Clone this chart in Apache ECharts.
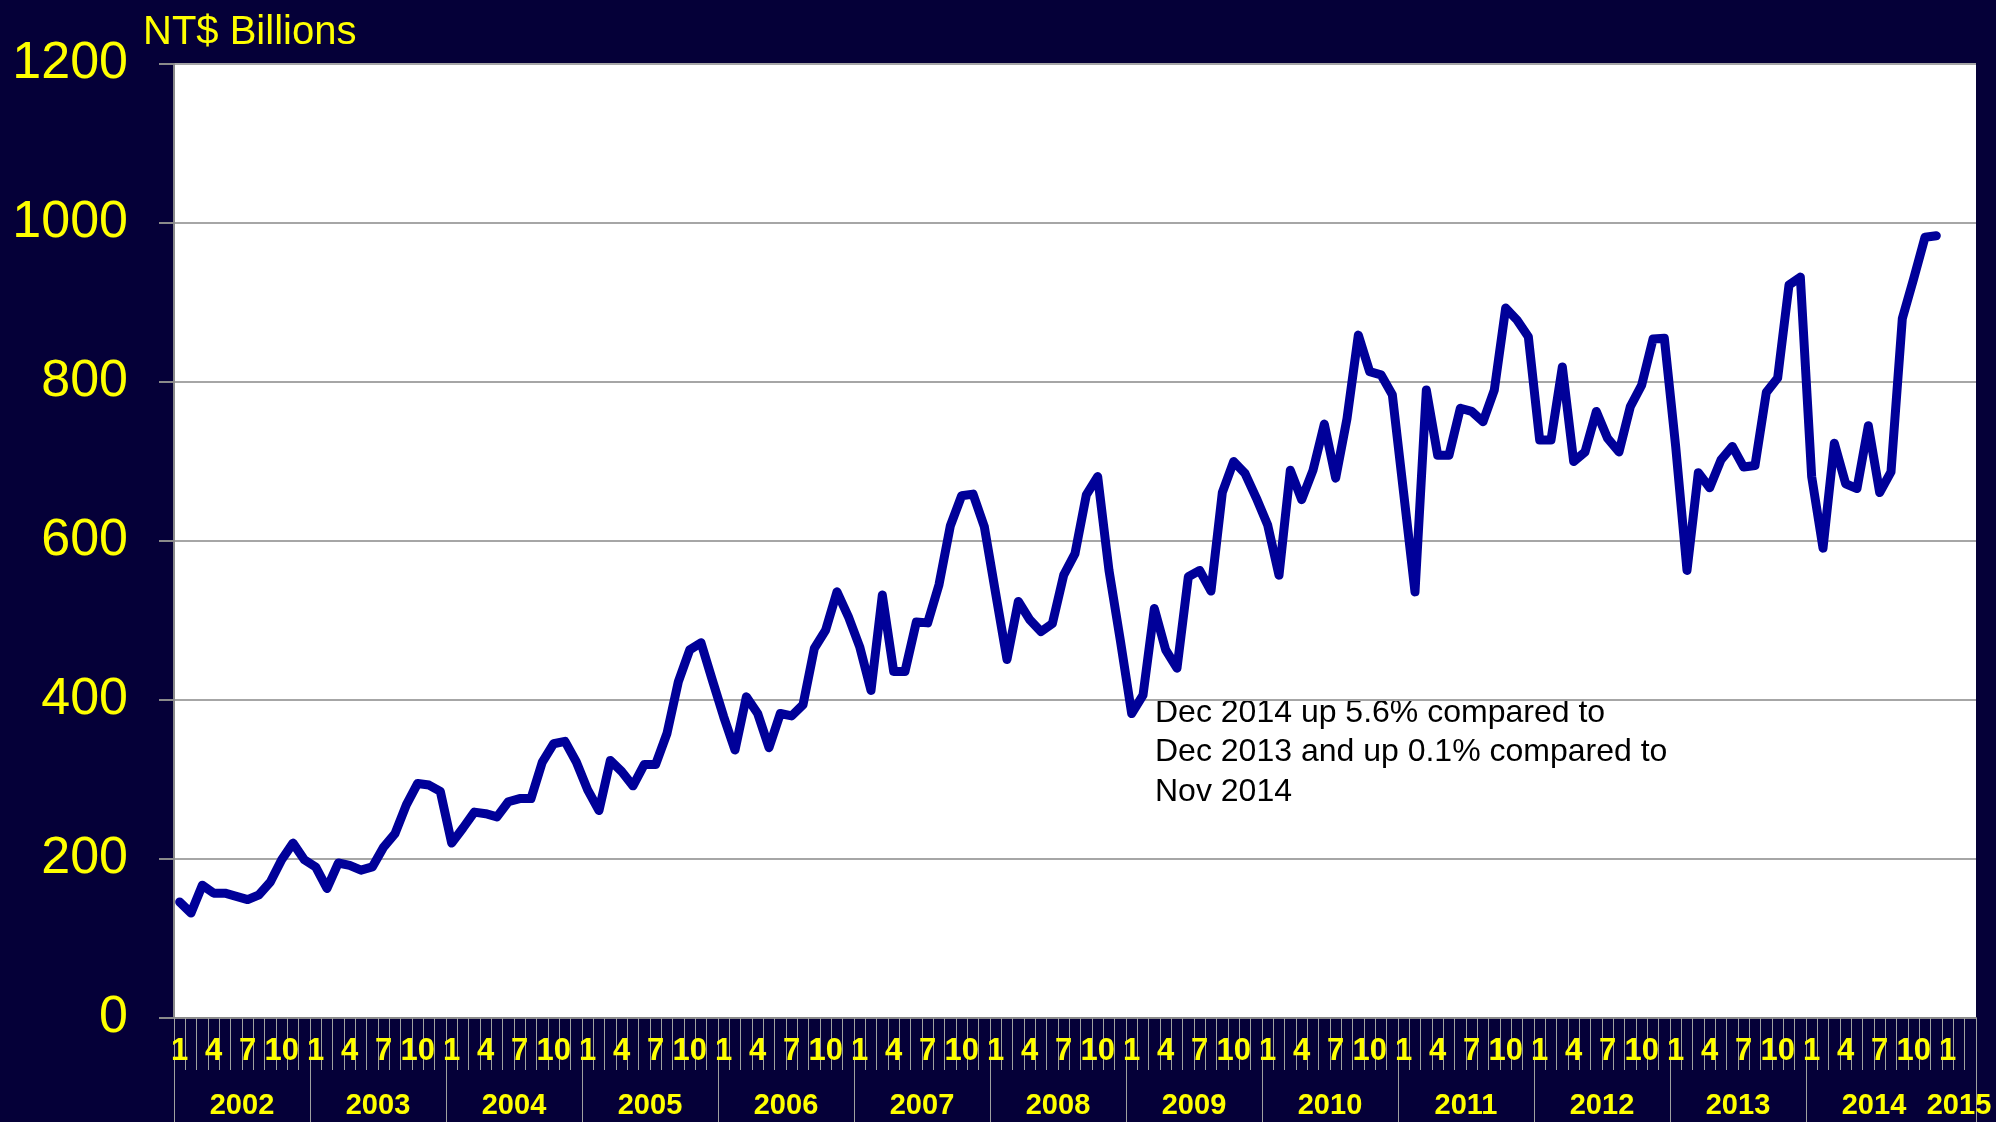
<!DOCTYPE html>
<html>
<head>
<meta charset="utf-8">
<script src="https://cdn.jsdelivr.net/npm/echarts@6/dist/echarts.min.js"></script>
<style>
  html, body { margin: 0; padding: 0; background: #050038; }
  #main { width: 1996px; height: 1122px; }
</style>
</head>
<body>
<div id="main"></div>
<script>
// monthly values, NT$ billions
var v2002 = [146, 132, 167, 157, 157, 153, 149, 155, 171, 199, 220, 199];
var v2003 = [190, 163, 195, 192, 186, 190, 215, 232, 268, 295, 293, 285];
var v2004 = [220, 239, 259, 257, 253, 272, 276, 276, 322, 345, 348, 322];
var v2005 = [287, 261, 324, 310, 292, 319, 319, 358, 423, 463, 472, 425];
var v2006 = [379, 337, 404, 383, 340, 383, 380, 394, 465, 488, 536, 505];
var v2007 = [467, 412, 532, 436, 436, 498, 497, 545, 619, 657, 659, 618];
var v2008 = [534, 451, 524, 501, 486, 496, 557, 584, 658, 681, 563, 475];
var v2009 = [383, 406, 515, 463, 440, 555, 563, 537, 661, 700, 685, 654];
var v2010 = [620, 557, 689, 652, 689, 747, 679, 754, 859, 813, 809, 784];
var v2011 = [660, 536, 790, 708, 708, 767, 763, 750, 790, 893, 878, 857];
var v2012 = [727, 727, 819, 700, 712, 763, 729, 712, 769, 796, 854, 855];
var v2013 = [719, 563, 686, 667, 702, 719, 693, 695, 787, 805, 922, 932];
var v2014 = [681, 591, 723, 672, 666, 745, 661, 687, 880, 930, 982, 984];

var years = ['2002', '2003', '2004', '2005', '2006', '2007', '2008',
             '2009', '2010', '2011', '2012', '2013', '2014', '2015'];
var monthNames = ['1', '2', '3', '4', '5', '6', '7', '8', '9', '10', '11', '12'];
var shownMonths = ['1', '4', '7', '10'];
var yTicks = [0, 200, 400, 600, 800, 1000, 1200];
var note = 'Dec 2014 up 5.6% compared to\nDec 2013 and up 0.1% compared to\nNov 2014';

var values = [].concat(v2002, v2003, v2004, v2005, v2006, v2007, v2008,
                       v2009, v2010, v2011, v2012, v2013, v2014);

// axis runs Jan 2002 .. Mar 2015
var months = [];
for (var y = 0; y < years.length - 1; y++) months = months.concat(monthNames);
months = months.concat(monthNames.slice(0, 3));
var nCat = months.length;

var yearTicks = [], yearMids = [];
for (var k = 0; k < years.length - 1; k++) {
  yearTicks.push(k * 12);
  yearMids.push(k * 12 + 6);
}
yearTicks.push(nCat);
yearMids.push((years.length - 1) * 12 + 1.5);

var yellow = '#ffff00';
var font = '"Liberation Sans", Arial, sans-serif';

var chart = echarts.init(document.getElementById('main'));
var option = {
  backgroundColor: '#050038',
  animation: false,
  title: {
    text: 'NT$ Billions',
    left: 138,
    top: 8,
    textStyle: { color: yellow, fontSize: 40, fontWeight: 'normal', fontFamily: font }
  },
  grid: {
    left: 174, right: 20, top: 64, bottom: 104,
    outerBoundsMode: 'none',
    containLabel: false,
    show: true, backgroundColor: '#ffffff', borderWidth: 0
  },
  xAxis: [
    {
      type: 'category',
      data: months,
      boundaryGap: true,
      axisLine: { lineStyle: { color: '#8a8a8a', width: 2 } },
      axisTick: { show: true, interval: 0, length: 52, lineStyle: { color: '#a0a0a0', width: 1 } },
      axisLabel: {
        interval: 0,
        margin: 18,
        color: yellow,
        fontSize: 31,
        fontWeight: 'bold',
        fontFamily: font,
        formatter: function (m) { return shownMonths.indexOf(m) >= 0 ? m : ''; }
      },
      splitLine: { show: false }
    },
    {
      type: 'value',
      position: 'bottom',
      min: 0,
      max: nCat,
      axisLine: { show: false },
      axisTick: { show: true, customValues: yearTicks, length: 104, lineStyle: { color: '#a0a0a0', width: 1 } },
      axisLabel: {
        customValues: yearMids,
        margin: 73,
        color: yellow,
        fontSize: 29,
        fontWeight: 'bold',
        fontFamily: font,
        formatter: function (v) { return years[Math.floor(v / 12)]; }
      },
      splitLine: { show: false }
    }
  ],
  yAxis: {
    type: 'value',
    min: yTicks[0],
    max: yTicks[yTicks.length - 1],
    interval: 200,
    axisLine: { show: true, lineStyle: { color: '#8a8a8a', width: 2 } },
    axisTick: { show: true, length: 15, lineStyle: { color: '#8a8a8a', width: 2 } },
    axisLabel: {
      margin: 46, color: yellow, fontSize: 52, fontFamily: font,
      formatter: function (v) { return String(v); }
    },
    splitLine: { lineStyle: { color: '#a6a6a6', width: 2 } }
  },
  graphic: [
    {
      type: 'text',
      left: 1155,
      top: 693,
      style: { text: note, fill: '#000000', font: '32px ' + font, lineHeight: 39.5 }
    }
  ],
  series: [
    {
      type: 'line',
      xAxisIndex: 0,
      data: values,
      symbol: 'none',
      lineStyle: { color: '#000099', width: 9, join: 'round', cap: 'round' }
    }
  ]
};
chart.setOption(option);
</script>
</body>
</html>
